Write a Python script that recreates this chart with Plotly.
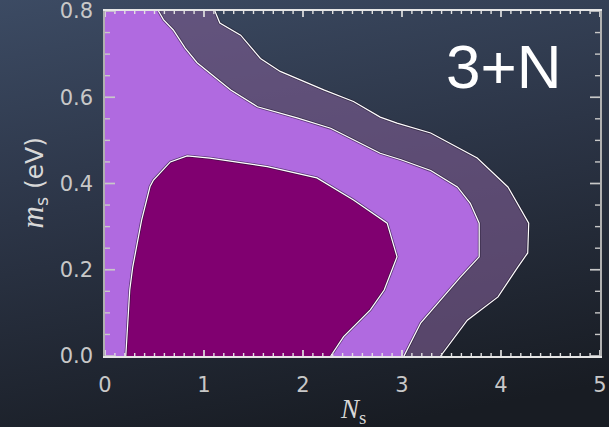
import base64
import plotly.graph_objects as go

# ---- data ----
inner_x = [0.21, 0.22, 0.25, 0.28, 0.37, 0.455, 0.49, 0.66, 0.83, 1.06, 1.64, 2.14, 2.51, 2.85, 2.95, 2.82, 2.68, 2.41, 2.28]
inner_y = [0.0, 0.045, 0.153, 0.206, 0.315, 0.393, 0.408, 0.45, 0.464, 0.459, 0.439, 0.413, 0.362, 0.308, 0.23, 0.153, 0.107, 0.045, 0.0]

middle_x = [0.54, 0.59, 0.69, 0.81, 0.93, 1.27, 1.54, 1.94, 2.28, 2.65, 2.78, 2.99, 3.29, 3.56, 3.69, 3.78, 3.78, 3.59, 3.39, 3.19, 3.02]
middle_y = [0.8, 0.78, 0.756, 0.714, 0.68, 0.617, 0.578, 0.552, 0.528, 0.485, 0.47, 0.455, 0.43, 0.392, 0.354, 0.308, 0.23, 0.183, 0.13, 0.077, 0.0]

outer_x = [1.11, 1.16, 1.37, 1.57, 1.77, 2.21, 2.51, 2.78, 2.95, 3.29, 3.76, 4.07, 4.28, 4.27, 4.17, 3.97, 3.66, 3.39]
outer_y = [0.8, 0.772, 0.744, 0.69, 0.66, 0.617, 0.59, 0.554, 0.54, 0.517, 0.459, 0.392, 0.308, 0.239, 0.206, 0.137, 0.083, 0.0]

x_ticks = [0, 1, 2, 3, 4, 5]
y_ticks = [0.0, 0.2, 0.4, 0.6, 0.8]
y_tick_labels = ["0.0", "0.2", "0.4", "0.6", "0.8"]
x_minor_step = 0.1
y_minor_step = 0.05
label_text = "3+N"

W, H = 609, 427
L, R, T, B = 105, 9, 11, 71
pw, ph = W - L - R, H - T - B

fig = go.Figure()

# filled regions (no outline)
fig.add_trace(go.Scatter(x=[0, 0] + outer_x + [0], y=[0, 0.8] + outer_y + [0],
                         fill="toself", mode="none", fillcolor="rgba(125,92,145,0.62)",
                         hoverinfo="skip", showlegend=False))
fig.add_trace(go.Scatter(x=[0, 0] + middle_x + [0], y=[0, 0.8] + middle_y + [0],
                         fill="toself", mode="none", fillcolor="#b06ae0",
                         hoverinfo="skip", showlegend=False))
fig.add_trace(go.Scatter(x=inner_x + [inner_x[0]], y=inner_y + [inner_y[0]],
                         fill="toself", mode="none", fillcolor="#800070",
                         hoverinfo="skip", showlegend=False))

# contour lines
for xs, ys in [(outer_x, outer_y), (middle_x, middle_y), (inner_x, inner_y)]:
    fig.add_trace(go.Scatter(x=xs, y=ys, mode="lines",
                             line=dict(color="rgba(30,20,40,0.55)", width=2.8),
                             hoverinfo="skip", showlegend=False))
    fig.add_trace(go.Scatter(x=xs, y=ys, mode="lines",
                             line=dict(color="#ffffff", width=1.2),
                             hoverinfo="skip", showlegend=False))

# background gradient as inline SVG image (oversized to cover whole page)
svg = ('<svg xmlns="http://www.w3.org/2000/svg" width="700" height="520" preserveAspectRatio="none">'
       '<defs><linearGradient id="g" x1="0" y1="0" x2="0.25" y2="1">'
       '<stop offset="0" stop-color="#40506a"/><stop offset="0.5" stop-color="#2c3547"/>'
       '<stop offset="1" stop-color="#181c23"/></linearGradient></defs>'
       '<rect width="700" height="520" fill="url(#g)"/></svg>')
src = "data:image/svg+xml;base64," + base64.b64encode(svg.encode()).decode()
fig.add_layout_image(dict(source=src, xref="paper", yref="paper",
                          x=-(L + 45) / pw, y=1 + (T + 45) / ph, sizex=(W + 90) / pw, sizey=(H + 90) / ph,
                          xanchor="left", yanchor="top", sizing="stretch", layer="below"))

# tick marks (inside, on all four sides) drawn as pixel-sized shapes anchored on axis values
def is_major(v, majors):
    return any(abs(v - m) < 1e-9 for m in majors)

n_x = int(round(x_ticks[-1] / x_minor_step))
for i in range(n_x + 1):
    v = round(i * x_minor_step, 6)
    major = is_major(v, x_ticks)
    ln = 6 if major else 3
    w = 1.7 if major else 1.4
    for anchor, sign in [(0, 1), (1, -1)]:
        fig.add_shape(type="line", xref="x", yref="paper", ysizemode="pixel", yanchor=anchor,
                      x0=v, x1=v, y0=0, y1=sign * ln,
                      line=dict(color="#e0e0e0", width=w), layer="above")

n_y = int(round(y_ticks[-1] / y_minor_step))
for i in range(n_y + 1):
    v = round(i * y_minor_step, 6)
    major = is_major(v, y_ticks)
    ln = 10 if major else 5
    w = 1.7 if major else 1.4
    for anchor, sign in [(0, 1), (1, -1)]:
        fig.add_shape(type="line", xref="paper", yref="y", xsizemode="pixel", xanchor=anchor,
                      y0=v, y1=v, x0=0, x1=sign * ln,
                      line=dict(color="#c8c8c8", width=w), layer="above")

tickfont = dict(family="DejaVu Sans", size=21, color="#c8c8c8")
fig.update_xaxes(range=[0, 5], tickvals=x_ticks, ticktext=[str(v) for v in x_ticks],
                 ticks="", showline=True, linecolor="#e6e6e6", linewidth=1.5, mirror=True,
                 showgrid=False, zeroline=False, tickfont=tickfont,
                 ticklabelstandoff=9, ticklabeloverflow="allow")
fig.update_yaxes(range=[0, 0.8], tickvals=y_ticks, ticktext=y_tick_labels,
                 ticks="", showline=True, linecolor="#b0b0b0", linewidth=1.5, mirror=True,
                 showgrid=False, zeroline=False, tickfont=tickfont,
                 ticklabelstandoff=6, ticklabeloverflow="allow")

fig.add_annotation(text="<i>N</i><sub>s</sub>", xref="paper", yref="paper",
                   x=0.5, y=(H - B - 411) / ph, showarrow=False,
                   font=dict(family="Liberation Serif", size=27, color="#d8d8d8"),
                   xanchor="center", yanchor="middle")
fig.add_annotation(text="<span style='font-family:Liberation Serif;font-size:31px'><i>m</i></span><sub>s</sub> (eV)",
                   xref="paper", yref="paper",
                   x=(33 - L) / pw, y=0.5, textangle=-90, showarrow=False,
                   font=dict(family="DejaVu Sans", size=25, color="#d8d8d8"),
                   xanchor="center", yanchor="middle")
fig.add_annotation(text=label_text, xref="paper", yref="paper",
                   x=(503 - L) / pw, y=(H - B - 66) / ph, showarrow=False,
                   font=dict(family="Liberation Sans", size=62, color="#ffffff"),
                   xanchor="center", yanchor="middle")

fig.update_layout(width=W, height=H, margin=dict(l=L, r=R, t=T, b=B, autoexpand=False),
                  paper_bgcolor="#2b3445", plot_bgcolor="rgba(0,0,0,0)")

fig.write_html("out.html", config={"displayModeBar": False},
               post_script="document.body.style.margin='0';document.body.style.overflow='hidden';")
